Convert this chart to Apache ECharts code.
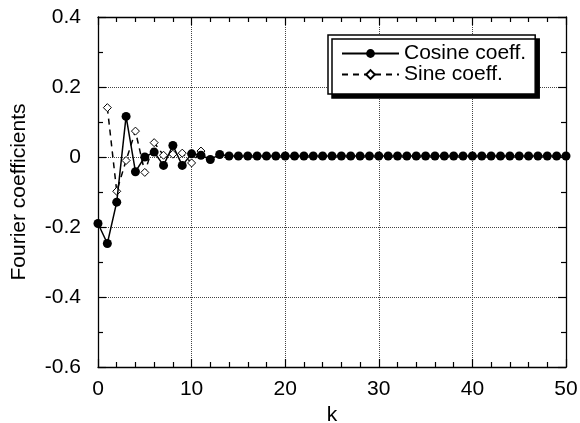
<!DOCTYPE html>
<html>
<head>
<meta charset="utf-8">
<script src="https://cdn.jsdelivr.net/npm/echarts@6/dist/echarts.min.js"></script>
<style>html,body{margin:0;padding:0;background:#fff}#c{width:580px;height:423px}</style>
</head>
<body>
<div id="c"></div>
<script>
// k = 0..50
const kValues = Array.from({length: 51}, (_, i) => i);
const cosineCoeff = [-0.19, -0.247, -0.129, 0.116, -0.042, 0.0, 0.014, -0.024, 0.033, -0.024,
  0.009, 0.005, -0.007, 0.007, 0.003, 0.003, 0.003, 0.003, 0.003, 0.003,
  0.003, 0.003, 0.003, 0.003, 0.003, 0.003, 0.003, 0.003, 0.003, 0.003,
  0.003, 0.003, 0.003, 0.003, 0.003, 0.003, 0.003, 0.003, 0.003, 0.003,
  0.003, 0.003, 0.003, 0.003, 0.003, 0.003, 0.003, 0.003, 0.003, 0.003, 0.003];
// sine coefficients start at k = 1
const sineK = [1, 2, 3, 4, 5, 6, 7, 8, 9, 10, 11];
const sineCoeff = [0.141, -0.098, -0.01, 0.074, -0.044, 0.041, 0.005, 0.008, 0.011, -0.017, 0.017];
const xTicks = [0, 10, 20, 30, 40, 50];
const yTicks = [-0.6, -0.4, -0.2, 0, 0.2, 0.4];

const font = '"Liberation Sans", Arial, sans-serif';
const chart = echarts.init(document.getElementById('c'), null, {renderer: 'canvas'});
function frameAxis(extra, minorSplit) {
  return Object.assign({
    axisLine: {show: true, onZero: false, lineStyle: {color: '#000', width: 1.3}},
    axisTick: {show: true, inside: true, length: 8, lineStyle: {color: '#000', width: 1.2}},
    minorTick: {show: true, splitNumber: minorSplit, length: 5, lineStyle: {color: '#000', width: 1.2}},
  }, extra);
}
chart.setOption({
  animation: false,
  backgroundColor: '#fff',
  grid: {left: 98, right: 14, top: 17, bottom: 56, containLabel: false, outerBoundsMode: 'none'},
  legend: {
    left: 328, top: 35,
    orient: 'vertical',
    backgroundColor: '#fff',
    borderColor: '#000', borderWidth: 1.5,
    shadowColor: '#000', shadowBlur: 0, shadowOffsetX: 4, shadowOffsetY: 4,
    padding: [8, 9, 9, 13],
    itemGap: 0, itemWidth: 57, itemHeight: 11, itemTextGap: 5,
    textStyle: {fontFamily: font, fontSize: 21, color: '#000', lineHeight: 19},
    data: ['Cosine coeff.', 'Sine coeff.']
  },
  xAxis: [frameAxis({
    type: 'value', min: xTicks[0], max: xTicks[xTicks.length - 1], interval: 10,
    name: 'k', nameLocation: 'middle', nameGap: 34,
    nameTextStyle: {fontFamily: font, fontSize: 21, color: '#000'},
    axisLabel: {fontFamily: font, fontSize: 21, color: '#000', margin: 12},
    splitLine: {show: true, lineStyle: {type: 'dotted', color: '#444', width: 1}}
  }, 5), frameAxis({
    type: 'value', position: 'top', min: xTicks[0], max: xTicks[xTicks.length - 1], interval: 10,
    axisLabel: {show: false}, splitLine: {show: false}
  }, 5)],
  yAxis: [frameAxis({
    type: 'value', min: yTicks[0], max: yTicks[yTicks.length - 1], interval: 0.2,
    name: 'Fourier coefficients', nameLocation: 'middle', nameGap: 68,
    nameTextStyle: {fontFamily: font, fontSize: 21, color: '#000'},
    axisLabel: {fontFamily: font, fontSize: 21, color: '#000', margin: 17,
      formatter: v => (Math.abs(v) < 1e-9 ? '0' : (+v.toFixed(1)).toString())},
    splitLine: {show: true, lineStyle: {type: 'dotted', color: '#444', width: 1}}
  }, 2), frameAxis({
    type: 'value', position: 'right', min: yTicks[0], max: yTicks[yTicks.length - 1], interval: 0.2,
    axisLabel: {show: false}, splitLine: {show: false}
  }, 2)],
  series: [{
    name: 'Cosine coeff.', type: 'line', z: 3,
    data: kValues.map((k, i) => [k, cosineCoeff[i]]),
    symbol: 'circle', symbolSize: 9,
    itemStyle: {color: '#000'},
    lineStyle: {color: '#000', width: 1.5, type: 'solid'}
  }, {
    name: 'Sine coeff.', type: 'line', z: 2,
    data: sineK.map((k, i) => [k, sineCoeff[i]]),
    symbol: 'diamond', symbolSize: 8, showAllSymbol: true,
    itemStyle: {color: '#fff', borderColor: '#000', borderWidth: 1},
    lineStyle: {color: '#000', width: 1.5, type: [6, 5]}
  }]
});
</script>
</body>
</html>
